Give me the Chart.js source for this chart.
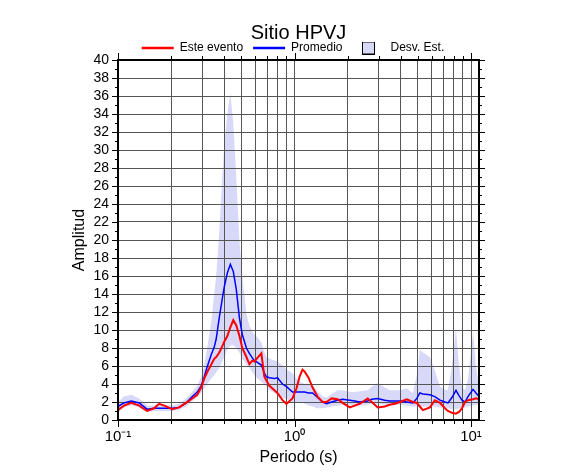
<!DOCTYPE html>
<html>
<head>
<meta charset="utf-8">
<title>Sitio HPVJ</title>
<script src="https://cdn.jsdelivr.net/npm/chart.js@4"></script>
<style>
  html, body { margin: 0; padding: 0; background: #fff; }
</style>
</head>
<body>
<canvas id="sitioChart" width="586" height="475"></canvas>
<script>
// periodos (s) y amplitudes
const periods = [0.1, 0.108, 0.119, 0.132, 0.146, 0.16, 0.171, 0.183, 0.203, 0.222,
  0.243, 0.26, 0.281, 0.296, 0.308, 0.32, 0.338, 0.351, 0.36, 0.375,
  0.39, 0.4, 0.416, 0.433, 0.45, 0.468, 0.487, 0.506, 0.534, 0.555,
  0.577, 0.593, 0.616, 0.649, 0.675, 0.693, 0.721, 0.77, 0.8, 0.855,
  0.901, 0.974, 1.026, 1.068, 1.11, 1.14, 1.201, 1.266, 1.351, 1.443,
  1.52, 1.623, 1.755, 1.874, 2.054, 2.193, 2.341, 2.598, 2.738, 2.963,
  3.246, 3.465, 3.7, 3.951, 4.329, 4.683, 4.934, 5.129, 5.337, 5.85,
  6.24, 6.67, 7.12, 7.4, 7.8, 8.22, 8.55, 8.89, 9.25, 9.61,
  10.27, 10.67, 11.1];

const esteEvento = [1.1, 1.6, 1.9, 1.6, 1.0, 1.3, 1.8, 1.6, 1.2, 1.4,
  1.9, 2.3, 2.8, 3.6, 4.6, 5.3, 6.2, 6.8, 7.0, 7.5,
  8.2, 8.7, 9.3, 10.3, 11.1, 10.5, 9.4, 8.0, 7.0, 6.2,
  6.6, 6.5, 6.9, 7.4, 4.8, 4.4, 3.8, 3.3, 3.0, 2.2,
  1.8, 2.4, 3.5, 4.8, 5.6, 5.4, 4.7, 3.6, 2.6, 2.0,
  2.0, 2.4, 2.3, 1.9, 1.4, 1.6, 1.8, 2.4, 2.0, 1.4,
  1.5, 1.7, 1.8, 2.0, 2.3, 2.0, 1.9, 1.5, 1.1, 1.4,
  2.2, 1.9, 1.3, 1.0, 0.8, 0.7, 0.9, 1.3, 2.0, 2.2,
  2.3, 2.4, 2.3];

const promedio = [1.5, 1.9, 2.1, 1.9, 1.2, 1.3, 1.3, 1.3, 1.3, 1.4,
  1.9, 2.5, 3.1, 3.8, 4.8, 5.9, 7.3, 8.1, 9.0, 11.4,
  13.5, 14.8, 16.3, 17.3, 16.5, 14.5, 11.4, 9.5, 8.0, 7.4,
  6.9, 6.6, 6.4, 6.1, 5.2, 4.8, 4.7, 4.6, 4.7, 4.0,
  3.7, 3.1, 3.1, 3.1, 3.1, 3.1, 3.0, 3.0, 2.5, 2.0,
  1.8, 2.0, 2.2, 2.3, 2.2, 2.1, 2.0, 2.1, 2.3, 2.4,
  2.2, 2.1, 2.1, 2.1, 2.0, 1.9, 2.4, 3.0, 2.9, 2.8,
  2.6, 2.2, 2.0, 1.9, 2.5, 3.3, 2.7, 2.2, 2.0, 2.6,
  3.4, 3.0, 2.6];

const desvSup = [2.0, 2.6, 2.8, 2.4, 1.6, 1.6, 1.7, 1.7, 1.6, 1.8,
  2.4, 3.0, 3.8, 4.8, 6.0, 8.0, 11.0, 14.0, 16.0, 21.0,
  27.0, 30.5, 34.0, 36.3, 33.0, 27.0, 20.0, 16.0, 11.8, 10.5,
  9.8, 9.5, 9.2, 8.6, 7.5, 7.0, 6.8, 6.6, 6.5, 6.1,
  5.6, 5.2, 4.6, 4.3, 4.1, 4.0, 3.9, 3.8, 3.2, 2.6,
  2.5, 2.9, 3.3, 3.3, 3.1, 3.1, 3.2, 3.3, 3.7, 4.1,
  3.6, 3.3, 3.3, 3.3, 3.5, 3.0, 5.0, 7.8, 7.5, 7.0,
  5.5, 3.7, 3.4, 3.3, 6.0, 10.2, 6.0, 3.7, 3.3, 4.5,
  9.7, 6.0, 3.7];

const desvInf = [1.0, 1.4, 1.6, 1.4, 0.9, 1.0, 1.0, 1.0, 1.0, 1.1,
  1.5, 2.0, 2.5, 3.0, 3.5, 4.0, 4.6, 5.0, 5.3, 5.8,
  6.5, 7.0, 7.8, 8.3, 8.3, 8.0, 7.5, 6.8, 6.2, 5.8,
  5.3, 5.0, 4.6, 4.3, 3.9, 3.7, 3.3, 3.0, 2.8, 2.5,
  2.3, 2.0, 1.9, 1.9, 1.9, 1.8, 1.6, 1.5, 1.3, 1.3,
  1.4, 1.5, 1.6, 1.7, 1.7, 1.6, 1.6, 1.7, 1.8, 1.8,
  1.7, 1.7, 1.7, 1.7, 1.6, 1.5, 1.5, 1.5, 1.5, 1.5,
  1.5, 1.4, 1.3, 1.3, 1.2, 1.2, 1.3, 1.3, 1.4, 1.5,
  1.6, 1.7, 1.7];

const xGridTicks = [0.1, 0.2, 0.3, 0.4, 0.5, 0.6, 0.7, 0.8, 0.9,
  1, 2, 3, 4, 5, 6, 7, 8, 9, 10];
const xMajorTicks = [0.1, 1, 10];
const xMajorLabels = ['10\u207B\u00B9', '10\u2070', '10\u00B9'];
const yTickValues = [0, 1, 2, 3, 4, 5, 6, 7, 8, 9, 10, 11, 12, 13, 14, 15, 16, 17, 18, 19, 20,
  21, 22, 23, 24, 25, 26, 27, 28, 29, 30, 31, 32, 33, 34, 35, 36, 37, 38, 39, 40];

const FONT = "'Liberation Sans', Arial, Helvetica, sans-serif";
Chart.defaults.font.family = FONT;
Chart.defaults.color = '#000';

function toPoints(values) {
  return periods.map((p, i) => ({ x: p, y: values[i] }));
}

// caja de la leyenda para la banda
const bandBox = document.createElement('canvas');
bandBox.width = 13;
bandBox.height = 13;
(function () {
  const c = bandBox.getContext('2d');
  c.fillStyle = '#d8d8f8';
  c.fillRect(0, 0, 13, 13);
  c.strokeStyle = '#000';
  c.lineWidth = 1;
  c.strokeRect(0.5, 0.5, 12, 12);
})();

// vuelve a pintar la reticula encima de la banda
const gridOverBand = {
  id: 'gridOverBand',
  afterDatasetDraw(chart, args) {
    if (args.index !== 2) return;
    chart.scales.x.drawGrid(chart.chartArea);
    chart.scales.y.drawGrid(chart.chartArea);
  }
};

// marco y marcas de los ejes
const frameTicks = {
  id: 'frameTicks',
  afterDraw(chart) {
    const { ctx, chartArea: a, scales: { x, y } } = chart;
    ctx.save();
    ctx.strokeStyle = '#000';
    ctx.lineWidth = 1;
    ctx.beginPath();
    x.ticks.forEach(t => {
      const px = Math.round(x.getPixelForValue(t.value)) + 0.5;
      const len = xMajorTicks.includes(t.value) ? 7 : 4;
      ctx.moveTo(px, a.bottom); ctx.lineTo(px, a.bottom + len);
      ctx.moveTo(px, a.top); ctx.lineTo(px, a.top - len);
    });
    y.ticks.forEach(t => {
      const py = Math.round(y.getPixelForValue(t.value)) + 0.5;
      const len = t.value % 2 === 0 ? 6 : 3;
      ctx.moveTo(a.left, py); ctx.lineTo(a.left - len, py);
      ctx.moveTo(a.right, py); ctx.lineTo(a.right + len, py);
    });
    ctx.stroke();
    ctx.lineWidth = 2;
    ctx.strokeRect(a.left, a.top, a.right - a.left, a.bottom - a.top);
    ctx.restore();
  }
};

new Chart(document.getElementById('sitioChart'), {
  type: 'line',
  data: {
    datasets: [
      {
        label: 'Este evento',
        data: toPoints(esteEvento),
        borderColor: '#ff0000',
        borderWidth: 2,
        pointRadius: 0,
        fill: false
      },
      {
        label: 'Promedio',
        data: toPoints(promedio),
        borderColor: '#0000ff',
        borderWidth: 1.5,
        pointRadius: 0,
        fill: false
      },
      {
        label: 'Desv. Est.',
        data: toPoints(desvSup),
        borderWidth: 0,
        borderColor: 'rgba(0,0,0,0)',
        backgroundColor: '#d8d8f8',
        pointRadius: 0,
        fill: '+1'
      },
      {
        label: 'inferior',
        data: toPoints(desvInf),
        borderWidth: 0,
        borderColor: 'rgba(0,0,0,0)',
        pointRadius: 0,
        fill: false
      }
    ]
  },
  options: {
    responsive: false,
    animation: false,
    devicePixelRatio: 1,
    layout: { padding: 0 },
    plugins: {
      title: {
        display: true,
        text: '  Sitio HPVJ',
        font: { size: 20, weight: 'normal' },
        color: '#000',
        padding: { top: 21, bottom: -13 }
      },
      legend: {
        display: true,
        maxHeight: 28,
        labels: {
          usePointStyle: true,
          pointStyleWidth: 32,
          padding: 10,
          font: { size: 12 },
          color: '#000',
          generateLabels: () => [
            { text: 'Este evento', pointStyle: 'line', strokeStyle: '#ff0000', fillStyle: '#ff0000', lineWidth: 2.5, fontColor: '#000' },
            { text: 'Promedio', pointStyle: 'line', strokeStyle: '#0000ff', fillStyle: '#0000ff', lineWidth: 2.5, fontColor: '#000' },
            { text: 'Desv. Est.', pointStyle: bandBox, strokeStyle: '#000', fillStyle: '#d8d8f8', lineWidth: 1, fontColor: '#000' }
          ]
        }
      },
      tooltip: { enabled: false }
    },
    scales: {
      x: {
        type: 'logarithmic',
        min: 0.1,
        max: 11.1,
        afterBuildTicks: s => { s.ticks = xGridTicks.map(v => ({ value: v })); },
        afterFit: s => { s.height = 55; },
        grid: { color: '#555', lineWidth: 1, drawTicks: false },
        border: { display: false },
        ticks: {
          autoSkip: false,
          maxRotation: 0,
          minRotation: 0,
          padding: 8,
          font: { size: 15 },
          callback: v => {
            const i = xMajorTicks.indexOf(v);
            return i >= 0 ? xMajorLabels[i] : '';
          }
        },
        title: {
          display: true,
          text: 'Periodo (s)',
          font: { size: 16 },
          padding: { top: 8, bottom: 8 }
        }
      },
      y: {
        type: 'linear',
        min: 0,
        max: 40,
        afterBuildTicks: s => { s.ticks = yTickValues.map(v => ({ value: v })); },
        afterFit: s => { s.width = 118; },
        grid: {
          color: c => (c.tick && c.tick.value % 2 === 0 ? '#555' : 'rgba(0,0,0,0)'),
          lineWidth: 1,
          drawTicks: false
        },
        border: { display: false },
        ticks: {
          autoSkip: false,
          padding: 9,
          font: { size: 14 },
          callback: v => (v % 2 === 0 ? v : '')
        },
        title: {
          display: true,
          text: 'Amplitud',
          font: { size: 16 },
          padding: { top: 70, bottom: 0 }
        }
      },
      yR: {
        type: 'linear',
        position: 'right',
        min: 0,
        max: 40,
        afterFit: s => { s.width = 107; },
        grid: { display: false },
        border: { display: false },
        ticks: { display: false }
      }
    }
  },
  plugins: [gridOverBand, frameTicks]
});
</script>
</body>
</html>
